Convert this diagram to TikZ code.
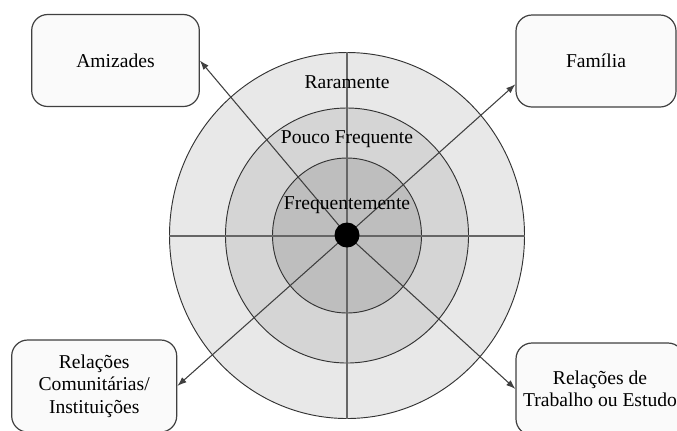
\documentclass[tikz,border=0pt]{standalone}
\usepackage{fontspec}
\setmainfont{Liberation Serif}
\usepackage{tikz}
\usetikzlibrary{arrows.meta,calc,shapes.geometric}
\definecolor{anelRaro}{HTML}{E8E8E8}
\definecolor{anelPouco}{HTML}{D5D5D5}
\definecolor{anelFreq}{HTML}{BEBEBE}

\begin{document}
\begin{tikzpicture}[x=0.75pt,y=-0.75pt,
  font=\rmfamily\fontsize{14.7}{16.9}\selectfont,
  anel/.style={ellipse,draw=black!80,line width=0.7pt,inner sep=0pt},
  eixo/.style={draw=black!60,line width=1.5pt},
  seta/.style={draw=black!75,line width=0.8pt,-{Latex[length=7pt,width=5pt]}},
  caixa/.style={rectangle,rounded corners=12pt,draw=black!75,line width=0.9pt,
    fill=black!2,minimum height=69pt,inner sep=0pt,align=center}]
\useasboundingbox (0,0) rectangle (677,430);
\coordinate (centro) at (347,235);
\node[anel,fill=anelRaro,minimum width=266.25pt,minimum height=274.5pt] (raro) at (347,235.5) {};
\node[anel,fill=anelPouco,minimum width=182.25pt,minimum height=191.25pt] (pouco) at (347,235.5) {};
\node[anel,fill=anelFreq,minimum width=111.75pt,minimum height=116.25pt] (freq) at (347,235.5) {};
\draw[eixo] (raro.west) -- (raro.east);
\draw[eixo] (raro.north) -- (raro.south);

\node[caixa,minimum width=125.7pt] (amiz) at (115.5,60.5) {Amizades};
\node[caixa,minimum width=120pt] (fam) at (596,61) {Família};
\node[caixa,minimum width=123.75pt] (comun) at (94.2,386) {Relações\\Comunitárias/\\Instituições};
\node[caixa,minimum width=126pt] (trab) at (600,389) {Relações de\\Trabalho ou Estudo};

\draw[seta] (centro) -- (amiz.east);
\draw[seta] (centro) -- ($(fam.west)!0.5!(fam.south west)$);
\draw[seta] (centro) -- (comun.east);
\draw[seta] (centro) -- (trab.west);

\node (txtRaro) at (347,82) {Raramente};
\node (txtPouco) at (347,139) {Pouco Frequente};
\node (txtFreq) at (347,205) {Frequentemente};
\node[circle,fill=black,minimum size=18.75pt,inner sep=0pt] (nucleo) at (centro) {};
\end{tikzpicture}
\end{document}
